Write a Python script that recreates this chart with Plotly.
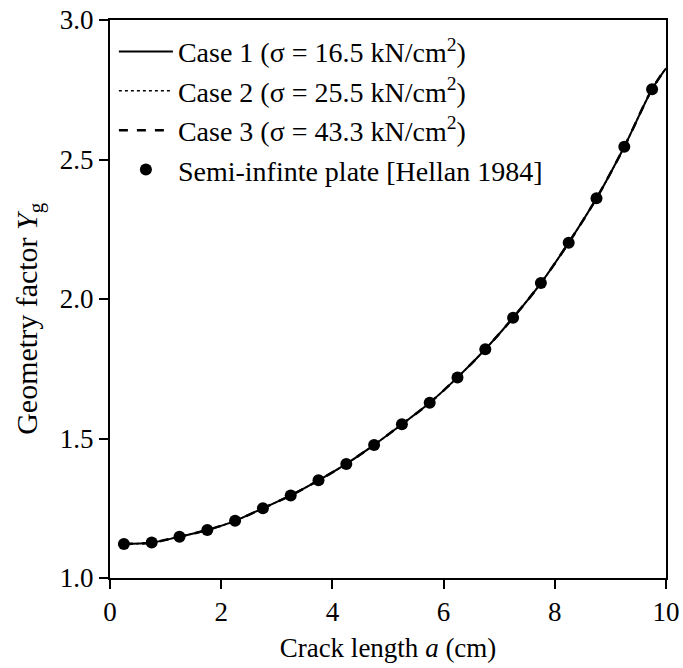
import plotly.graph_objects as go

# Crack length a (cm) at marker positions
a_points = [0.25, 0.75, 1.25, 1.75, 2.25, 2.75, 3.25, 3.75, 4.25, 4.75,
            5.25, 5.75, 6.25, 6.75, 7.25, 7.75, 8.25, 8.75, 9.25, 9.75]
# Semi-infinite plate [Hellan 1984]
y_hellan = [1.122, 1.127, 1.148, 1.172, 1.205, 1.250, 1.296, 1.350, 1.409, 1.477,
            1.551, 1.628, 1.719, 1.820, 1.933, 2.057, 2.202, 2.361, 2.546, 2.752]

# Curves for the three FE cases (they overlap)
a_curve = [0.25, 0.75, 1.25, 1.75, 2.25, 2.75, 3.25, 3.75, 4.25, 4.75,
           5.25, 5.75, 6.25, 6.75, 7.25, 7.75, 8.25, 8.75, 9.25, 9.75, 10.0]
y_case1 = [1.122, 1.127, 1.148, 1.172, 1.205, 1.250, 1.296, 1.350, 1.409, 1.477,
           1.551, 1.628, 1.719, 1.820, 1.933, 2.057, 2.202, 2.361, 2.546, 2.752, 2.827]
y_case2 = [1.122, 1.127, 1.148, 1.172, 1.205, 1.250, 1.296, 1.350, 1.409, 1.477,
           1.551, 1.628, 1.719, 1.820, 1.933, 2.057, 2.202, 2.361, 2.546, 2.752, 2.827]
y_case3 = [1.122, 1.127, 1.148, 1.172, 1.205, 1.250, 1.296, 1.350, 1.409, 1.477,
           1.551, 1.628, 1.719, 1.820, 1.933, 2.057, 2.202, 2.361, 2.546, 2.752, 2.827]

case_names = ["Case 1 (σ = 16.5 kN/cm<sup>2</sup>)",
              "Case 2 (σ = 25.5 kN/cm<sup>2</sup>)",
              "Case 3 (σ = 43.3 kN/cm<sup>2</sup>)"]
hellan_name = "Semi-infinte plate [Hellan 1984]"
x_title = "Crack length <i>a</i> (cm)"
y_title = "Geometry factor <i>Y</i><sub>g</sub>"

x_ticks = [0, 2, 4, 6, 8, 10]
y_ticks = [1.0, 1.5, 2.0, 2.5, 3.0]

FONT = "Liberation Serif, Times New Roman, serif"
TICK_FS = 27
LEG_FS = 28

fig = go.Figure()
fig.add_trace(go.Scatter(x=a_curve, y=y_case1, mode="lines", name=case_names[0],
                         line=dict(color="black", width=2, dash="solid", shape="spline")))
fig.add_trace(go.Scatter(x=a_curve, y=y_case2, mode="lines", name=case_names[1],
                         line=dict(color="black", width=1.5, dash="dot", shape="spline")))
fig.add_trace(go.Scatter(x=a_curve, y=y_case3, mode="lines", name=case_names[2],
                         line=dict(color="black", width=2.5, dash="dash", shape="spline")))
fig.add_trace(go.Scatter(x=a_points, y=y_hellan, mode="markers", name=hellan_name,
                         marker=dict(color="black", size=12, symbol="circle")))

axis_common = dict(
    showline=True, linecolor="black", linewidth=2, mirror=True,
    ticks="outside", ticklen=9, tickwidth=2, tickcolor="black",
    showgrid=False, zeroline=False, automargin=False,
    ticklabeloverflow="allow",
    tickfont=dict(family=FONT, size=TICK_FS, color="black"),
)

fig.update_layout(
    width=683, height=668,
    margin=dict(l=110, r=17, t=20, b=90),
    paper_bgcolor="white", plot_bgcolor="white",
    font=dict(family=FONT, size=LEG_FS, color="black"),
    showlegend=True,
    legend=dict(x=0.007, y=0.988, xanchor="left", yanchor="top",
                bgcolor="rgba(0,0,0,0)", font=dict(family=FONT, size=LEG_FS, color="black"),
                tracegroupgap=0, itemwidth=54),
    xaxis=dict(range=[0, 10], tickvals=x_ticks, ticktext=[str(v) for v in x_ticks],
               title=dict(text=x_title, font=dict(family=FONT, size=27), standoff=12),
               **axis_common),
    yaxis=dict(range=[1, 3], tickvals=y_ticks, ticktext=[f"{v:.1f}" for v in y_ticks],
               **axis_common),
    annotations=[dict(text=y_title, xref="paper", yref="paper", x=-0.146, y=0.466,
                      xanchor="center", yanchor="middle", textangle=-90, showarrow=False,
                      font=dict(family=FONT, size=30, color="black"))],
)

# remove the default page margin so the 683x668 figure fills the window exactly
fig.write_html("out.html", config={"displayModeBar": False},
               post_script="document.body.style.margin='0';")
